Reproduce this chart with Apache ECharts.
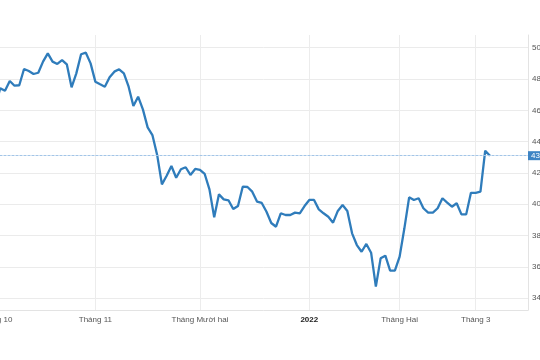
<!DOCTYPE html>
<html>
<head>
<meta charset="utf-8">
<script src="https://cdn.jsdelivr.net/npm/echarts@6/dist/echarts.min.js"></script>
<style>
html,body{margin:0;padding:0;background:#fff;}
#chart{width:540px;height:360px;}
</style>
</head>
<body>
<div id="chart"></div>
<script>
// Trading days (category axis)
var oct21 = ['01','04','05','06','07','08','11','12','13','14','15','18','19','20','21','22','25','26','27','28','29'];
var nov21 = ['01','02','03','04','05','08','09','10','11','12','15','16','17','18','19','22','23','24','25','26','29','30'];
var dec21 = ['01','02','03','06','07','08','09','10','13','14','15','16','17','20','21','22','23','24','27','28','29','30','31'];
var jan22 = ['04','05','06','07','10','11','12','13','14','17','18','19','20','21','24','25','26','27','28'];
var feb22 = ['07','08','09','10','11','14','15','16','17','18','21','22','23','24','25','28'];
var mar22 = ['01','02','03','04','07','08','09','10','11','14','15','16'];

// Closing values
var values = [
  46.3, 47.41, 47.25, 47.87, 47.57, 47.60, 48.64, 48.51, 48.32, 48.40,
  49.11, 49.64, 49.11, 48.96, 49.21, 48.94, 47.47, 48.36, 49.58, 49.68,
  49.00, 47.83, 47.66, 47.51, 48.11, 48.47, 48.62, 48.36, 47.51, 46.27,
  46.87, 46.06, 44.91, 44.42, 43.15, 41.27, 41.82, 42.44, 41.69, 42.23,
  42.36, 41.87, 42.25, 42.19, 41.93, 40.95, 39.16, 40.63, 40.31, 40.25,
  39.69, 39.89, 41.12, 41.10, 40.80, 40.17, 40.08, 39.52, 38.80, 38.56,
  39.42, 39.31, 39.31, 39.46, 39.42, 39.88, 40.27, 40.27, 39.67, 39.42,
  39.20, 38.82, 39.57, 39.95, 39.57, 38.14, 37.39, 36.96, 37.46, 36.90,
  34.73, 36.54, 36.71, 35.75, 35.75, 36.65, 38.46, 40.44, 40.27, 40.38,
  39.74, 39.46, 39.46, 39.74, 40.38, 40.10, 39.84, 40.06, 39.35, 39.35,
  40.73, 40.73, 40.80, 43.42, 43.10
];

// Month tick labels
var tickDates = ['2021-10-01','2021-11-01','2021-12-01','2022-01-04','2022-02-07','2022-03-01'];
var tickLabels = ['Tháng 10','Tháng 11','Tháng Mười hai','2022','Tháng Hai','Tháng 3'];
var yTicks = [34, 36, 38, 40, 42, 44, 46, 48, 50];

function mk(prefix, days){ return days.map(function(d){ return prefix + d; }); }
var categories = [].concat(
  mk('2021-10-', oct21), mk('2021-11-', nov21), mk('2021-12-', dec21),
  mk('2022-01-', jan22), mk('2022-02-', feb22), mk('2022-03-', mar22)
);

var lastValue = values[values.length - 1];
var isTick = function(idx, val){ return tickDates.indexOf(val) >= 0; };

var chart = echarts.init(document.getElementById('chart'), null, {renderer:'canvas'});
var FONT = 'Liberation Sans';
chart.setOption({
  animation: false,
  backgroundColor: '#ffffff',
  grid: [
    {left: -4.5, right: 12, top: 47.7, bottom: 61.9, containLabel: false, outerBoundsMode: 'none'},
    {left: -4.5, right: 12, top: 35, bottom: 50, containLabel: false, outerBoundsMode: 'none'}
  ],
  xAxis: [
    {type: 'category', gridIndex: 0, data: categories, boundaryGap: false, show: false},
    {type: 'category', gridIndex: 1, data: categories, boundaryGap: false,
     axisLine: {show: true, lineStyle: {color: '#e3e3e3', width: 1}},
     axisTick: {show: false},
     splitLine: {show: true, interval: isTick, lineStyle: {color: '#ececec', width: 1}},
     axisLabel: {
       interval: isTick, margin: 6, color: '#555', fontSize: 8, fontFamily: FONT,
       formatter: function(v){
         var k = tickDates.indexOf(v);
         if (k < 0) return '';
         return tickLabels[k] === '2022' ? '{b|2022}' : tickLabels[k];
       },
       rich: {b: {fontWeight: 'bold', color: '#222', fontSize: 8, fontFamily: FONT}}
     }}
  ],
  yAxis: [
    {type: 'value', gridIndex: 0, position: 'right', min: yTicks[0], max: yTicks[yTicks.length-1], interval: 2,
     axisLine: {show: false}, axisTick: {show: false},
     splitLine: {show: true, lineStyle: {color: '#ebebeb', width: 1}},
     axisLabel: {margin: 4, color: '#555', fontSize: 8, fontFamily: FONT}},
    {type: 'value', gridIndex: 1, position: 'right', min: 0, max: 1,
     axisLine: {show: true, lineStyle: {color: '#e3e3e3', width: 1}},
     axisTick: {show: false}, axisLabel: {show: false}, splitLine: {show: false}}
  ],
  series: [{
    type: 'line', xAxisIndex: 0, yAxisIndex: 0, data: values,
    showSymbol: false, symbol: 'none',
    lineStyle: {color: '#2f7cbb', width: 2.3},
    markLine: {
      silent: true, symbol: 'none',
      lineStyle: {color: '#a3c5e7', type: [3, 1], width: 1},
      label: {position: 'end', distance: 0, formatter: function(p){ return p.value.toFixed(2); },
              backgroundColor: '#3d84c4', color: '#fff', fontSize: 8, fontFamily: FONT, padding: [1,3,0,3]},
      data: [{yAxis: lastValue}]
    }
  }]
});
</script>
</body>
</html>
